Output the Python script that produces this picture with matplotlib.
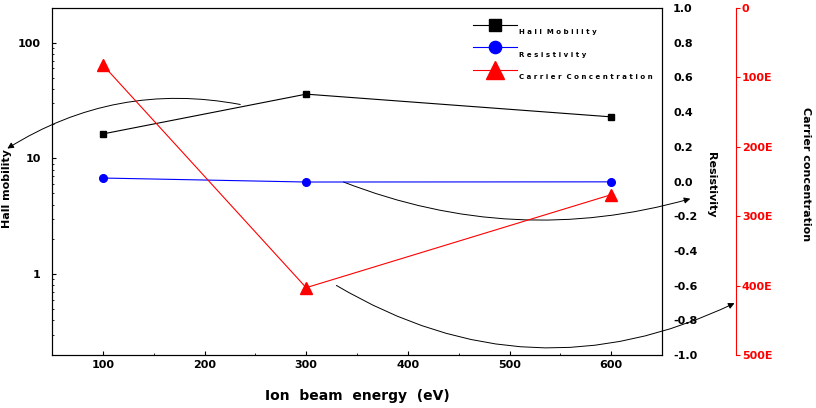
import numpy as np
import matplotlib.pyplot as plt

# data
energy = [100, 300, 600]
hall_mobility = [16.3, 36.0, 22.9]
resistivity = [0.02, -0.003, -0.002]
carrier_conc = [82, 403, 269]  # in units of "E", axis runs 0 -> 500E downward

x_ticks = [100, 200, 300, 400, 500, 600]
res_ticks = [1.0, 0.8, 0.6, 0.4, 0.2, 0.0, -0.2, -0.4, -0.6, -0.8, -1.0]
cc_ticks = [0, 100, 200, 300, 400, 500]
cc_labels = ['0', '100E', '200E', '300E', '400E', '500E']

fig = plt.figure(figsize=(8.16, 4.08), dpi=100)
ax = fig.add_axes([52/816, 1-355/408, 610/816, 347/408])

# Hall mobility on log axis
ax.set_yscale('log')
h1, = ax.plot(energy, hall_mobility, color='black', lw=0.8, marker='s', ms=5,
              label='\nH a l l  M o b i l i t y')
ax.set_xlim(50, 650)
ax.set_ylim(0.2, 200)
ax.set_xticks(x_ticks)
ax.set_xticks(np.arange(50, 651, 50), minor=True)
ax.set_yticks([1, 10, 100])
ax.set_yticklabels(['1', '10', '100'])
ax.tick_params(axis='both', which='both', direction='in', labelsize=8)
ax.tick_params(axis='both', which='major', length=3)
ax.tick_params(axis='both', which='minor', length=1.5)
ax.tick_params(axis='y', pad=8)
for lab in ax.get_xticklabels() + ax.get_yticklabels():
    lab.set_fontweight('bold')
ax.set_xlabel('Ion  beam  energy  (eV)', fontsize=10, fontweight='bold', labelpad=14)
ax.set_ylabel('Hall mobility', fontsize=8, fontweight='bold')
ax.yaxis.set_label_coords(-0.066, 0.48)

# resistivity axis
ax2 = ax.twinx()
h2, = ax2.plot(energy, resistivity, color='blue', lw=0.8, marker='o', ms=5.5,
               label='\nR e s i s t i v i t y')
ax2.set_ylim(-1.0, 1.0)
ax2.set_yticks(res_ticks)
ax2.set_yticklabels(['%.1f' % t for t in res_ticks])
ax2.tick_params(axis='y', length=0, labelsize=8, pad=8)
for lab in ax2.get_yticklabels():
    lab.set_fontweight('bold')
ax2.set_ylabel('Resistivity', fontsize=8, fontweight='bold', rotation=-90)
ax2.yaxis.set_label_coords(1.088, 0.49)

# carrier concentration axis (red, offset)
ax3 = ax.twinx()
ax3.spines['right'].set_position(('outward', 53.5))
ax3.spines['right'].set_color('red')
for s in ['top', 'bottom', 'left']:
    ax3.spines[s].set_visible(False)
h3, = ax3.plot(energy, carrier_conc, color='red', lw=0.8, marker='^', ms=8,
               label='\nC a r r i e r  C o n c e n t r a t i o n')
ax3.set_ylim(500, 0)
ax3.set_yticks(cc_ticks)
ax3.set_yticklabels(cc_labels)
ax3.tick_params(axis='y', colors='red', length=3, labelsize=8, pad=1)
for lab in ax3.get_yticklabels():
    lab.set_fontweight('bold')
ax3.set_ylabel('Carrier concentration', fontsize=8, fontweight='bold', rotation=-90)
ax3.yaxis.set_label_coords(1.245, 0.52)

leg = ax.legend(handles=[h1, h2, h3], loc='upper left', bbox_to_anchor=(0.683, 0.995),
                frameon=False, fontsize=5, handlelength=6.3, labelspacing=0.15,
                handletextpad=0.3, markerscale=1.6, borderaxespad=0.2)
for t in leg.get_texts():
    t.set_fontweight('bold')
    t.set_linespacing(2.9)

# curved arrows pointing to the axes
arrow_kw = dict(arrowstyle='-|>', color='black', lw=0.7, mutation_scale=9)
fig_h = 408
ax.annotate('', xy=(5, fig_h-150), xytext=(243, fig_h-105), xycoords='figure pixels',
            textcoords='figure pixels',
            arrowprops=dict(connectionstyle='arc3,rad=0.2', **arrow_kw))
ax.annotate('', xy=(693, fig_h-198), xytext=(341, fig_h-181), xycoords='figure pixels',
            textcoords='figure pixels',
            arrowprops=dict(connectionstyle='arc3,rad=0.17', **arrow_kw))
ax.annotate('', xy=(737, fig_h-302), xytext=(334, fig_h-284), xycoords='figure pixels',
            textcoords='figure pixels',
            arrowprops=dict(connectionstyle='arc3,rad=0.27', **arrow_kw))

fig.savefig('out.png', dpi=100)
